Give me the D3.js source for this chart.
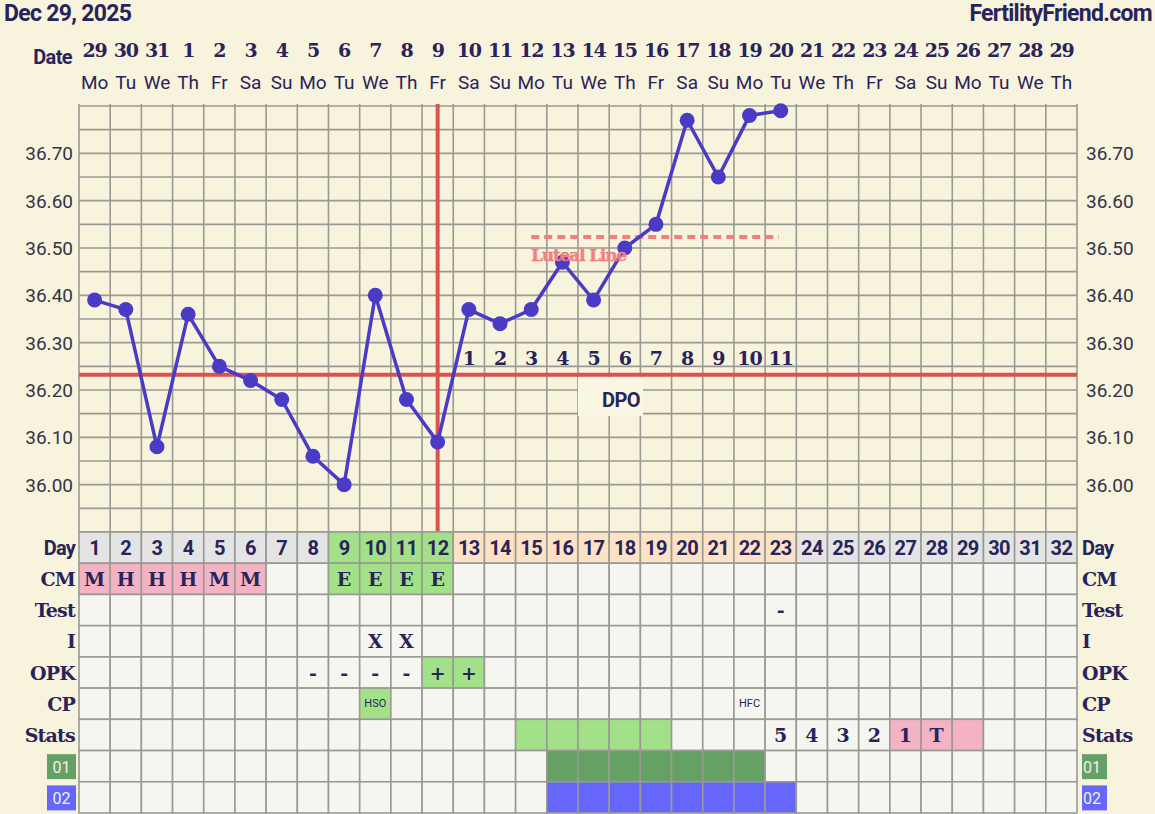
<!DOCTYPE html>
<html><head><meta charset="utf-8">
<script src="https://cdn.jsdelivr.net/npm/d3@7/dist/d3.min.js"></script>
<style>body{margin:0;background:#f8f3dc;}svg{display:block;}</style>
</head><body>
<svg id="c" width="1155" height="814"></svg>
<script>
const dayNums = d3.range(1, 33);
const dates = ["29","30","31","1","2","3","4","5","6","7","8","9","10","11","12","13","14","15","16","17","18","19","20","21","22","23","24","25","26","27","28","29"];
const weekdays = ["Mo","Tu","We","Th","Fr","Sa","Su","Mo","Tu","We","Th","Fr","Sa","Su","Mo","Tu","We","Th","Fr","Sa","Su","Mo","Tu","We","Th","Fr","Sa","Su","Mo","Tu","We","Th"];
const temps = [36.39,36.37,36.08,36.36,36.25,36.22,36.18,36.06,36.00,36.40,36.18,36.09,36.37,36.34,36.37,36.47,36.39,36.50,36.55,36.77,36.65,36.78,36.79];
const yTicks = [36.00,36.10,36.20,36.30,36.40,36.50,36.60,36.70];
const coverline = 36.232;
const ovulationDay = 12;
const lutealLine = {from: 15, to: 23, value: 36.523};
const dpoStartDay = 13;
const dpoLabels = ["1","2","3","4","5","6","7","8","9","10","11"];
const rowLabels = ["Day","CM","Test","I","OPK","CP","Stats","01","02"];
const cmValues = ["M","H","H","H","M","M","","","E","E","E","E"];
const testValues = {23:"-"};
const iValues = {10:"X",11:"X"};
const opkValues = {8:"-",9:"-",10:"-",11:"-",12:"+",13:"+"};
const cpValues = {10:"HSO",22:"HFC"};
const statsValues = {23:"5",24:"4",25:"3",26:"2",27:"1",28:"T",29:""};
const statsGreenDays = [15,16,17,18,19];
const statsPinkDays = [27,28,29];
const row01Days = [16,17,18,19,20,21,22];
const row02Days = [16,17,18,19,20,21,22,23];

const C = {bg:"#f8f3dc", cell:"#f6f6f0", grid:"#9a9a94", navy:"#28245a", line:"#4a3bc6",
  red:"#d9544f", salmon:"#f08080", gray:"#e4e4e4", green:"#a3e189", peach:"#fde2c6",
  pink:"#f4b3c4", dgreen:"#65a065", blue:"#6666fa"};
const slab = "'DejaVu Serif', serif";
const sans = "Roboto, 'Liberation Sans', sans-serif";

const svg = d3.select("#c");
svg.append("rect").attr("width",1155).attr("height",814).attr("fill",C.bg);

const x = d3.scaleBand().domain(dayNums).range([79, 1077]).padding(0);
const bw = x.bandwidth();
const cx = d => x(d) + bw/2;
const y = d3.scaleLinear().domain([35.9, 36.8]).range([532, 106]);
const rowY = d3.scaleBand().domain(rowLabels).range([532, 813]);
const rh = rowY.bandwidth();

// header
svg.append("text").attr("x",4).attr("y",21).text("Dec 29, 2025")
  .attr("font-family",sans).attr("font-weight",700).attr("font-size",23).attr("letter-spacing",-0.7).attr("fill",C.navy);
svg.append("text").attr("x",1152).attr("y",21).attr("text-anchor","end").text("FertilityFriend.com")
  .attr("font-family",sans).attr("font-weight",700).attr("font-size",23).attr("letter-spacing",-0.7).attr("fill",C.navy);
svg.append("text").attr("x",72).attr("y",64).attr("text-anchor","end").text("Date")
  .attr("font-family",sans).attr("font-weight",700).attr("font-size",20).attr("letter-spacing",-0.6).attr("fill",C.navy);
svg.append("g").selectAll("text").data(dates).join("text")
  .attr("x",(d,i)=>cx(i+1)).attr("y",57).attr("text-anchor","middle").text(d=>d)
  .attr("font-family",slab).attr("font-weight",700).attr("font-size",19).attr("letter-spacing",-1.2).attr("fill",C.navy);
svg.append("g").selectAll("text").data(weekdays).join("text")
  .attr("x",(d,i)=>cx(i+1)).attr("y",89).attr("text-anchor","middle").text(d=>d)
  .attr("font-family",sans).attr("font-size",19).attr("fill",C.navy);

// grid
const g = svg.append("g");
const hLines = d3.range(0, 19).map(i => 35.9 + i*0.05);
g.selectAll("line.h").data(hLines).join("line")
  .attr("x1",79).attr("x2",1077).attr("y1",d=>y(d)).attr("y2",d=>y(d))
  .attr("stroke",C.grid).attr("stroke-width",1.6);
g.selectAll("line.v").data(d3.range(0,33)).join("line")
  .attr("x1",d=>79+d*bw).attr("x2",d=>79+d*bw).attr("y1",104).attr("y2",532)
  .attr("stroke",C.grid).attr("stroke-width",1.6);

// y axis labels
const yl = svg.append("g");
yl.selectAll("text.l").data(yTicks).join("text").attr("class","l")
  .attr("x",73).attr("y",d=>y(d)+7).attr("text-anchor","end").text(d=>d.toFixed(2))
  .attr("font-family",sans).attr("font-size",19).attr("fill","#33334a");
yl.selectAll("text.r").data(yTicks).join("text").attr("class","r")
  .attr("x",1086).attr("y",d=>y(d)+7).text(d=>d.toFixed(2))
  .attr("font-family",sans).attr("font-size",19).attr("fill","#33334a");

// coverline
svg.append("line").attr("x1",79).attr("x2",1077).attr("y1",y(coverline)).attr("y2",y(coverline))
  .attr("stroke",C.red).attr("stroke-width",4);
// ovulation line
svg.append("line").attr("x1",cx(ovulationDay)).attr("x2",cx(ovulationDay)).attr("y1",104).attr("y2",531)
  .attr("stroke",C.red).attr("stroke-width",4);

// luteal line
svg.append("line").attr("x1",cx(lutealLine.from)).attr("x2",cx(lutealLine.to)-2)
  .attr("y1",y(lutealLine.value)).attr("y2",y(lutealLine.value))
  .attr("stroke",C.salmon).attr("stroke-width",4).attr("stroke-dasharray","8,5");

// DPO numbers
svg.append("g").selectAll("text").data(dpoLabels).join("text")
  .attr("x",(d,i)=>cx(dpoStartDay+i)).attr("y",365).attr("text-anchor","middle").text(d=>d)
  .attr("font-family",slab).attr("font-weight",700).attr("font-size",19).attr("letter-spacing",-1).attr("fill",C.navy);
svg.append("rect").attr("x",578).attr("y",377).attr("width",65).attr("height",39).attr("fill","#faf6e4");
svg.append("text").attr("x",621).attr("y",407).attr("text-anchor","middle").text("DPO")
  .attr("font-family",sans).attr("font-weight",700).attr("font-size",20).attr("letter-spacing",-0.5).attr("fill",C.navy);

// temperature line
const pts = temps.map((t,i)=>({d:i+1,t}));
svg.append("path").datum(pts)
  .attr("d", d3.line().x(p=>cx(p.d)).y(p=>y(p.t)))
  .attr("fill","none").attr("stroke",C.line).attr("stroke-width",3.5);
svg.append("g").selectAll("circle").data(pts).join("circle")
  .attr("cx",p=>cx(p.d)).attr("cy",p=>y(p.t)).attr("r",7.5).attr("fill",C.line);

svg.append("text").attr("x",cx(lutealLine.from)).attr("y",y(lutealLine.value)+24).text("Luteal Line")
  .attr("font-family",slab).attr("font-weight",700).attr("font-size",16.5).attr("letter-spacing",-0.9)
  .attr("stroke",C.salmon).attr("stroke-width",0.5).attr("fill",C.salmon);

// table
const tbl = svg.append("g");
function cellFill(row, d){
  if(row==="Day"){ if(d>=9&&d<=12) return C.green; if(d>=13&&d<=23) return C.peach; return C.gray; }
  if(row==="CM"){ if(d<=6) return C.pink; if(d>=9&&d<=12) return C.green; }
  if(row==="OPK" && opkValues[d]==="+") return C.green;
  if(row==="CP" && cpValues[d]==="HSO") return C.green;
  if(row==="Stats"){ if(statsGreenDays.includes(d)) return C.green; if(statsPinkDays.includes(d)) return C.pink; }
  if(row==="01" && row01Days.includes(d)) return C.dgreen;
  if(row==="02" && row02Days.includes(d)) return C.blue;
  return C.cell;
}
const cells = [];
rowLabels.forEach(r => dayNums.forEach(d => cells.push({r,d})));
tbl.selectAll("rect").data(cells).join("rect")
  .attr("x",c=>x(c.d)).attr("y",c=>rowY(c.r)).attr("width",bw).attr("height",rh)
  .attr("fill",c=>cellFill(c.r,c.d)).attr("stroke",C.grid).attr("stroke-width",1.6);

function cellText(r,d){
  if(r==="Day") return String(d);
  if(r==="CM") return cmValues[d-1]||"";
  if(r==="Test") return testValues[d]||"";
  if(r==="I") return iValues[d]||"";
  if(r==="OPK") return opkValues[d]||"";
  if(r==="CP") return cpValues[d]||"";
  if(r==="Stats") return statsValues[d]||"";
  return "";
}
tbl.selectAll("text").data(cells.filter(c=>cellText(c.r,c.d)!=="")).join("text")
  .attr("x",c=>cx(c.d)).attr("y",c=>rowY(c.r)+rh/2)
  .attr("text-anchor","middle").attr("dominant-baseline","central")
  .text(c=>cellText(c.r,c.d))
  .attr("font-family",c=> c.r==="Day"||c.r==="CP" ? sans : slab)
  .attr("font-weight",c=> c.r==="CP" ? 400 : 700)
  .attr("font-size",c=> c.r==="CP" ? 11 : (c.r==="Day" ? 20 : 19))
  .attr("letter-spacing",c=> c.r==="Day" ? -0.6 : 0)
  .attr("fill",C.navy);

// row labels
const lab = svg.append("g");
rowLabels.forEach(r => {
  const yc = rowY(r) + rh/2;
  if(r==="01"||r==="02"){
    const fill = r==="01" ? C.dgreen : C.blue;
    lab.append("rect").attr("x",47).attr("y",yc-12).attr("width",29).attr("height",25).attr("fill",fill);
    lab.append("text").attr("x",61.5).attr("y",yc+1).attr("text-anchor","middle").attr("dominant-baseline","central")
      .text(r).attr("font-family",sans).attr("font-size",16).attr("fill","#f0f0f0");
    lab.append("rect").attr("x",1082).attr("y",yc-12).attr("width",25).attr("height",25).attr("fill",fill);
    lab.append("text").attr("x",1083).attr("y",yc+1).attr("dominant-baseline","central")
      .text(r).attr("font-family",sans).attr("font-size",16).attr("fill","#f0f0f0");
  } else {
    const f = r==="Day" ? sans : slab;
    lab.append("text").attr("x",75).attr("y",yc).attr("text-anchor","end").attr("dominant-baseline","central")
      .text(r).attr("font-family",f).attr("font-weight",700).attr("font-size",r==="Day"?20:19)
      .attr("letter-spacing",-0.8).attr("fill",C.navy);
    lab.append("text").attr("x",1082).attr("y",yc).attr("dominant-baseline","central")
      .text(r).attr("font-family",f).attr("font-weight",700).attr("font-size",r==="Day"?20:19)
      .attr("letter-spacing",-0.8).attr("fill",C.navy);
  }
});
</script>
</body></html>
